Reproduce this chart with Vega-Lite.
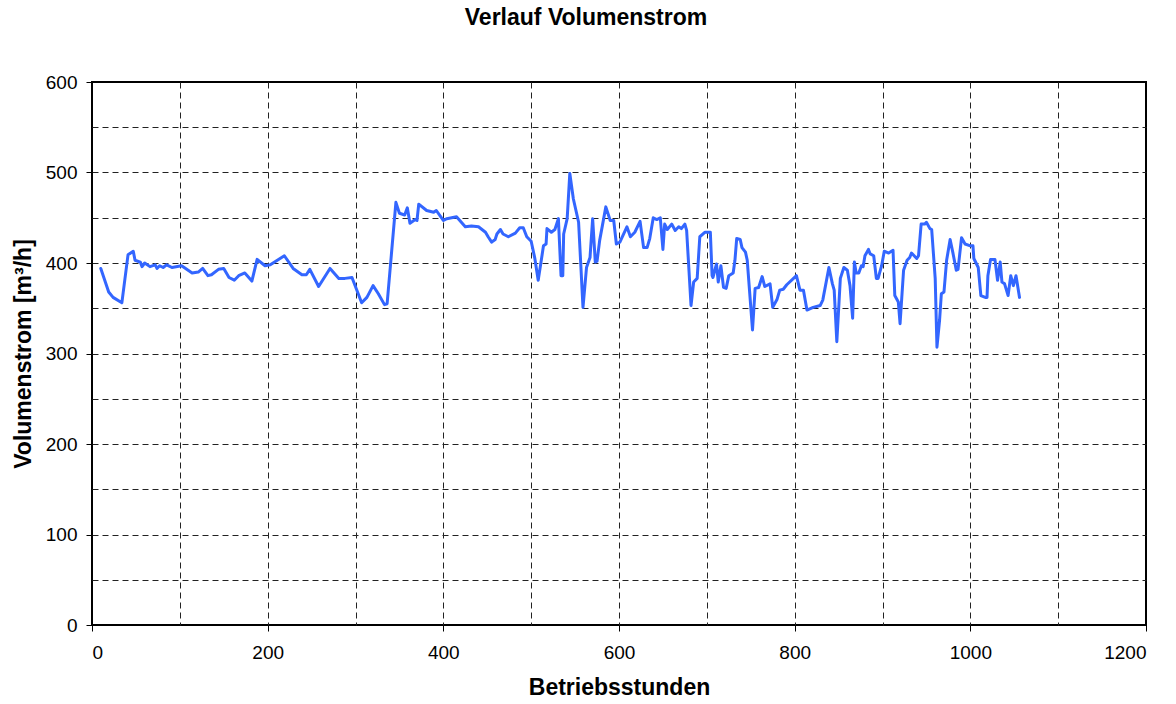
{
  "$schema": "https://vega.github.io/schema/vega-lite/v6.json",
  "autosize": "none",
  "width": 1054,
  "height": 543,
  "padding": {"left": 92, "top": 82, "right": 30, "bottom": 79},
  "background": "white",
  "title": {
    "text": "Verlauf Volumenstrom",
    "font": "Liberation Sans",
    "fontSize": 23,
    "fontWeight": "bold",
    "color": "black",
    "anchor": "middle",
    "dx": -33,
    "offset": 43
  },
  "config": {
    "view": {"stroke": "black", "strokeWidth": 2},
    "axis": {
      "labelFont": "Liberation Sans",
      "labelFontSize": 19,
      "labelColor": "black",
      "titleFont": "Liberation Sans",
      "titleFontSize": 23,
      "titleFontWeight": "bold",
      "titleColor": "black",
      "domain": false,
      "tickColor": "black",
      "tickWidth": 1,
      "tickSize": 6,
      "gridColor": "#222222",
      "gridWidth": 1,
      "gridDash": [6, 4]
    }
  },
  "data": {
    "values": [
      {"h": 10, "v": 394}, {"h": 19, "v": 368}, {"h": 24, "v": 362}, {"h": 34, "v": 356},
      {"h": 41, "v": 409}, {"h": 47, "v": 413}, {"h": 49, "v": 403}, {"h": 55, "v": 401},
      {"h": 57, "v": 396}, {"h": 60, "v": 400}, {"h": 66, "v": 396}, {"h": 72, "v": 398},
      {"h": 74, "v": 394}, {"h": 77, "v": 397}, {"h": 81, "v": 395}, {"h": 85, "v": 398},
      {"h": 91, "v": 395}, {"h": 102, "v": 397}, {"h": 114, "v": 389}, {"h": 121, "v": 390},
      {"h": 126, "v": 394}, {"h": 132, "v": 386}, {"h": 136, "v": 387}, {"h": 144, "v": 393},
      {"h": 150, "v": 394}, {"h": 156, "v": 384}, {"h": 162, "v": 381}, {"h": 167, "v": 386},
      {"h": 174, "v": 389}, {"h": 182, "v": 380}, {"h": 188, "v": 404}, {"h": 197, "v": 397},
      {"h": 203, "v": 398}, {"h": 219, "v": 408}, {"h": 229, "v": 394}, {"h": 239, "v": 387},
      {"h": 244, "v": 387}, {"h": 248, "v": 393}, {"h": 258, "v": 374}, {"h": 271, "v": 394},
      {"h": 281, "v": 383}, {"h": 288, "v": 383}, {"h": 296, "v": 384}, {"h": 307, "v": 356},
      {"h": 313, "v": 362}, {"h": 320, "v": 375}, {"h": 326, "v": 366}, {"h": 333, "v": 354},
      {"h": 336, "v": 355}, {"h": 346, "v": 467}, {"h": 350, "v": 455}, {"h": 356, "v": 453},
      {"h": 359, "v": 461}, {"h": 362, "v": 444}, {"h": 368, "v": 448}, {"h": 370, "v": 447},
      {"h": 372, "v": 465}, {"h": 381, "v": 458}, {"h": 389, "v": 456}, {"h": 392, "v": 458},
      {"h": 400, "v": 447}, {"h": 404, "v": 449}, {"h": 415, "v": 451}, {"h": 425, "v": 440},
      {"h": 432, "v": 441}, {"h": 440, "v": 440}, {"h": 448, "v": 434}, {"h": 451, "v": 429},
      {"h": 455, "v": 423}, {"h": 459, "v": 426}, {"h": 461, "v": 432}, {"h": 465, "v": 437},
      {"h": 468, "v": 432}, {"h": 474, "v": 429}, {"h": 482, "v": 433}, {"h": 487, "v": 439},
      {"h": 491, "v": 439}, {"h": 495, "v": 429}, {"h": 500, "v": 424}, {"h": 504, "v": 406},
      {"h": 508, "v": 381}, {"h": 512, "v": 406}, {"h": 514, "v": 419}, {"h": 517, "v": 421},
      {"h": 518, "v": 438}, {"h": 523, "v": 434}, {"h": 527, "v": 437}, {"h": 531, "v": 449},
      {"h": 534, "v": 386}, {"h": 536, "v": 386}, {"h": 537, "v": 432}, {"h": 541, "v": 449},
      {"h": 544, "v": 499}, {"h": 548, "v": 471}, {"h": 554, "v": 445}, {"h": 559, "v": 351},
      {"h": 563, "v": 395}, {"h": 567, "v": 406}, {"h": 570, "v": 449}, {"h": 573, "v": 401},
      {"h": 575, "v": 402}, {"h": 578, "v": 425}, {"h": 585, "v": 462}, {"h": 590, "v": 447},
      {"h": 594, "v": 447}, {"h": 597, "v": 421}, {"h": 601, "v": 423}, {"h": 609, "v": 440},
      {"h": 613, "v": 429}, {"h": 618, "v": 434}, {"h": 624, "v": 446}, {"h": 628, "v": 417},
      {"h": 632, "v": 417}, {"h": 635, "v": 427}, {"h": 639, "v": 450}, {"h": 643, "v": 448},
      {"h": 647, "v": 450}, {"h": 650, "v": 415}, {"h": 652, "v": 443}, {"h": 655, "v": 437},
      {"h": 660, "v": 443}, {"h": 664, "v": 436}, {"h": 668, "v": 440}, {"h": 671, "v": 438},
      {"h": 675, "v": 443}, {"h": 677, "v": 436}, {"h": 682, "v": 353}, {"h": 685, "v": 379},
      {"h": 689, "v": 383}, {"h": 692, "v": 429}, {"h": 698, "v": 434}, {"h": 704, "v": 434},
      {"h": 706, "v": 386}, {"h": 707, "v": 384}, {"h": 711, "v": 399}, {"h": 713, "v": 379},
      {"h": 716, "v": 397}, {"h": 719, "v": 373}, {"h": 722, "v": 372}, {"h": 725, "v": 386},
      {"h": 730, "v": 389}, {"h": 732, "v": 403}, {"h": 734, "v": 427}, {"h": 738, "v": 426},
      {"h": 740, "v": 417}, {"h": 744, "v": 412}, {"h": 746, "v": 403}, {"h": 752, "v": 326},
      {"h": 755, "v": 372}, {"h": 759, "v": 373}, {"h": 763, "v": 385}, {"h": 766, "v": 374},
      {"h": 772, "v": 377}, {"h": 775, "v": 351}, {"h": 780, "v": 360}, {"h": 783, "v": 370},
      {"h": 787, "v": 371}, {"h": 791, "v": 376}, {"h": 802, "v": 386}, {"h": 806, "v": 370},
      {"h": 810, "v": 370}, {"h": 814, "v": 348}, {"h": 821, "v": 351}, {"h": 829, "v": 353},
      {"h": 832, "v": 359}, {"h": 839, "v": 395}, {"h": 843, "v": 377}, {"h": 845, "v": 370},
      {"h": 848, "v": 313}, {"h": 852, "v": 383}, {"h": 856, "v": 395}, {"h": 860, "v": 392},
      {"h": 863, "v": 375}, {"h": 866, "v": 339}, {"h": 868, "v": 401}, {"h": 870, "v": 389},
      {"h": 873, "v": 389}, {"h": 876, "v": 397}, {"h": 878, "v": 396}, {"h": 880, "v": 408},
      {"h": 884, "v": 415}, {"h": 886, "v": 410}, {"h": 890, "v": 408}, {"h": 893, "v": 383},
      {"h": 895, "v": 383}, {"h": 899, "v": 397}, {"h": 902, "v": 413}, {"h": 907, "v": 411},
      {"h": 912, "v": 414}, {"h": 914, "v": 364}, {"h": 918, "v": 357}, {"h": 920, "v": 333},
      {"h": 924, "v": 392}, {"h": 928, "v": 403}, {"h": 931, "v": 406}, {"h": 933, "v": 411},
      {"h": 939, "v": 405}, {"h": 941, "v": 408}, {"h": 944, "v": 443}, {"h": 948, "v": 443},
      {"h": 950, "v": 445}, {"h": 954, "v": 438}, {"h": 956, "v": 437}, {"h": 960, "v": 383},
      {"h": 962, "v": 307}, {"h": 965, "v": 337}, {"h": 967, "v": 366}, {"h": 970, "v": 368},
      {"h": 973, "v": 403}, {"h": 977, "v": 426}, {"h": 980, "v": 412}, {"h": 984, "v": 392},
      {"h": 986, "v": 393}, {"h": 990, "v": 428}, {"h": 994, "v": 421}, {"h": 1000, "v": 419},
      {"h": 1003, "v": 419}, {"h": 1004, "v": 405}, {"h": 1009, "v": 395}, {"h": 1012, "v": 364},
      {"h": 1017, "v": 362}, {"h": 1019, "v": 362}, {"h": 1020, "v": 386}, {"h": 1023, "v": 404},
      {"h": 1028, "v": 404}, {"h": 1031, "v": 381}, {"h": 1034, "v": 401}, {"h": 1036, "v": 379},
      {"h": 1039, "v": 377}, {"h": 1043, "v": 364}, {"h": 1046, "v": 386}, {"h": 1049, "v": 375},
      {"h": 1052, "v": 386}, {"h": 1056, "v": 362}
    ]
  },
  "layer": [
    {
      "mark": {"type": "line", "opacity": 0},
      "encoding": {
        "x": {
          "field": "h", "type": "quantitative",
          "scale": {"domain": [0, 1200], "nice": false, "zero": false},
          "axis": {"orient": "bottom", "values": [100, 200, 300, 400, 500, 600, 700, 800, 900, 1000, 1100], "grid": true, "labels": false, "ticks": false, "title": null}
        },
        "y": {
          "field": "v", "type": "quantitative",
          "scale": {"domain": [0, 600], "nice": false},
          "axis": {"orient": "left", "values": [50, 100, 150, 200, 250, 300, 350, 400, 450, 500, 550], "grid": true, "labels": false, "ticks": false, "title": null}
        }
      }
    },
    {
      "mark": {"type": "line", "color": "#3366ff", "strokeWidth": 3, "strokeJoin": "round", "strokeCap": "round"},
      "encoding": {
        "x": {
          "field": "h", "type": "quantitative",
          "scale": {"domain": [0, 1200], "nice": false, "zero": false},
          "axis": {"orient": "bottom", "values": [0, 200, 400, 600, 800, 1000, 1200], "format": "d", "grid": false, "labelPadding": 12, "title": "Betriebsstunden", "titlePadding": 14}
        },
        "y": {
          "field": "v", "type": "quantitative",
          "scale": {"domain": [0, 600], "nice": false},
          "axis": {"orient": "left", "values": [0, 100, 200, 300, 400, 500, 600], "format": "d", "grid": false, "labelPadding": 9, "title": "Volumenstrom [m³/h]", "titlePadding": 10}
        }
      }
    }
  ],
  "resolve": {"axis": {"x": "independent", "y": "independent"}}
}
